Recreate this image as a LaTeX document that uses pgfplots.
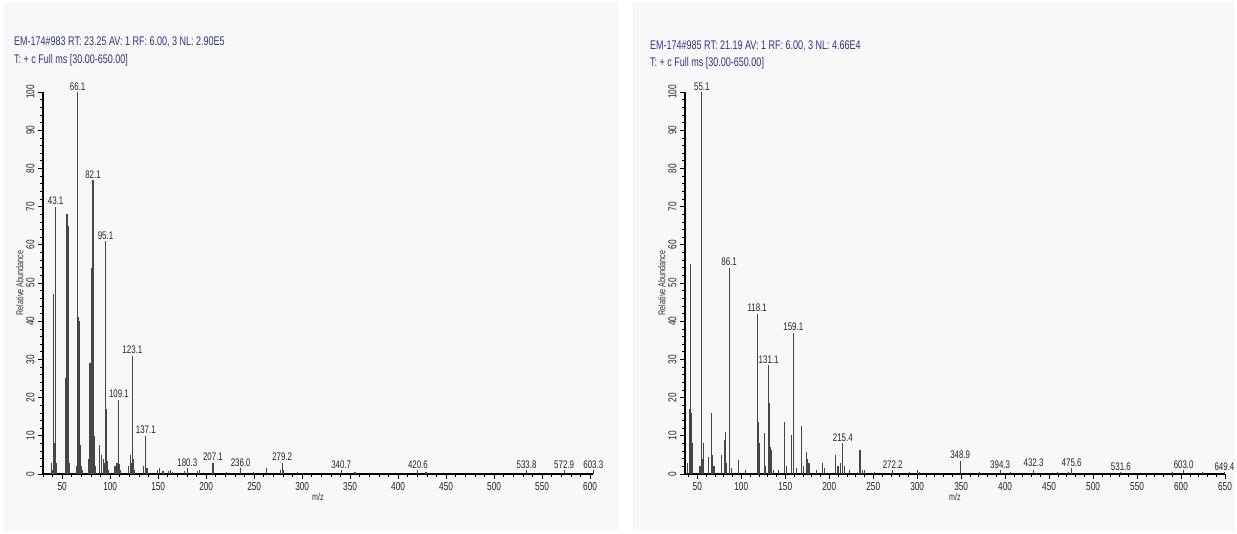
\documentclass[border=0pt]{standalone}
\usepackage{fontspec}
\setmainfont{Liberation Sans}[FakeStretch=0.72]
\usepackage{pgfplots}
\usepackage{pgfplotstable}
\pgfplotsset{compat=1.18}
\definecolor{hdr}{RGB}{50,50,150}
\definecolor{barc}{RGB}{70,70,70}
\definecolor{panel}{RGB}{248,248,248}

\pgfplotstableread{
m v
39 3
40 1
41 47
42 8
43.1 70
44 3
53 19
54 25
55 68
56 7
57 65
58 3
65 2
66.1 100
67 41
68 40
69 7.5
70 2
71 1
77 4
78 2
79 29
80 5
81 54
82.1 77
83 49
84 10
85 2
89 7.5
91 5
93 4
94 3
95.1 61
96 17
97 3.5
98 1
105 2
107 3
108 3
109.1 19.5
110 2.5
111 1
119 2
121 5
122 3
123.1 31
124 4
125 1
135 2
137.1 10
138 1.5
139 1.5
149 1
151 1.5
155 0.8
161 0.8
163 1
165 0.6
177 0.8
180.3 1.5
191 0.8
193 1
207.1 3
221 0.5
236.0 1.5
249 0.5
263 1.5
277 1
279.2 3
281 1
295 0.5
340.7 1
355 0.4
420.6 1
429 0.4
533.8 1
572.9 1
603.3 1
}\leftdata

\pgfplotstableread{
m v
39 3
41 17
42 55
43 16
44 8
45 3
53 2
55.1 100
56 4
57 8
63 4.5
66 16
67 5
69 2
78 5
81 9
82 11
83 3
86.1 54
87 2
89 1.5
97 3.7
105 1
118.1 42
119 13.6
120 8
121 8
126 10.7
128 2
131.1 28.5
132 18.6
133 7
134 6.3
137 1
142 1
149 13.6
151 2
157 10.2
159.1 37
163 1.5
168 12.6
171 2
174 5.8
175 4
177 3
185 1
192 3
195 1.5
207 5
210 2
213 3
215.4 8
217 2
223 1
235 6.3
238 1
240 1
251 0.5
272.2 1
291 0.5
300 1
303 0.6
348.9 3.5
371 0.5
394.3 1
406 0.5
432.3 1
460 0.5
472 0.5
475.6 1.5
531.6 0.5
590 0.5
603.0 1
624 0.5
649.4 0.5
}\rightdata

\tikzset{lbl/.style={above, inner sep=1.5pt, font=\fontsize{11}{12}\selectfont, text=black!85}}
\pgfplotsset{
  msstyle/.style={
    scale only axis,
    height=382pt,
    anchor=south west,
    ymin=0, ymax=100,
    axis x line*=bottom,
    axis y line*=left,
    axis line style={black, line width=1.1pt},
    tick align=outside,
    tick style={black, line width=0.6pt},
    major tick length=5pt,
    minor tick length=3pt,
    xtick distance=50,
    ytick distance=10,
    minor x tick num=4,
    minor y tick num=4,
    /pgf/number format/assume math mode=true,
    ticklabel style={font=\fontsize{11.5}{12}\selectfont, text=black!85},
    yticklabel style={rotate=90, anchor=south, font=\fontsize{11.5}{12}\selectfont},
    ylabel={Relative Abundance},
    ylabel style={font=\fontsize{10}{11}\selectfont, text=black!80, yshift=-4pt},
    xlabel={m/z},
    xlabel style={font=\fontsize{10}{11}\selectfont, text=black!80, yshift=4pt},
    clip=false,
  },
}

\begin{document}
\begin{tikzpicture}[x=1pt,y=1pt]
\fill[white] (0,0) rectangle (1237,533);
\fill[panel] (4,2) rectangle (618,531);
\fill[panel] (633,2) rectangle (1235,531);

\node[anchor=west, text=hdr, font=\fontsize{12.5}{13}\selectfont, inner sep=0pt] at (14,491) {EM-174\#983 RT: 23.25 AV: 1 RF: 6.00, 3 NL: 2.90E5};
\node[anchor=west, text=hdr, font=\fontsize{12.5}{13}\selectfont, inner sep=0pt] at (14,473) {T: + c Full ms [30.00-650.00]};
\node[anchor=west, text=hdr, font=\fontsize{12.5}{13}\selectfont, inner sep=0pt] at (650,487) {EM-174\#985 RT: 21.19 AV: 1 RF: 6.00, 3 NL: 4.66E4};
\node[anchor=west, text=hdr, font=\fontsize{12.5}{13}\selectfont, inner sep=0pt] at (650,470) {T: + c Full ms [30.00-650.00]};

\begin{axis}[msstyle, at={(43pt,59pt)}, width=550pt, xmin=30, xmax=603]
\addplot[ycomb, barc, line width=1.1pt, mark=none] table[x=m, y=v] {\leftdata};
\node[lbl] at (axis cs:66.1,100) {66.1};
\node[lbl] at (axis cs:43.1,70) {43.1};
\node[lbl] at (axis cs:82.1,77) {82.1};
\node[lbl] at (axis cs:95.1,61) {95.1};
\node[lbl] at (axis cs:109.1,19.5) {109.1};
\node[lbl] at (axis cs:123.1,31) {123.1};
\node[lbl] at (axis cs:137.1,10) {137.1};
\node[lbl] at (axis cs:180.3,1.5) {180.3};
\node[lbl] at (axis cs:207.1,3) {207.1};
\node[lbl] at (axis cs:236.0,1.5) {236.0};
\node[lbl] at (axis cs:279.2,3) {279.2};
\node[lbl] at (axis cs:340.7,1) {340.7};
\node[lbl] at (axis cs:420.6,1) {420.6};
\node[lbl] at (axis cs:533.8,1) {533.8};
\node[lbl] at (axis cs:572.9,1) {572.9};
\node[lbl] at (axis cs:603.3,1) {603.3};
\end{axis}

\begin{axis}[msstyle, at={(685pt,59pt)}, width=540pt, xmin=36, xmax=650]
\addplot[ycomb, barc, line width=1.1pt, mark=none] table[x=m, y=v] {\rightdata};
\node[lbl] at (axis cs:55.1,100) {55.1};
\node[lbl] at (axis cs:86.1,54) {86.1};
\node[lbl] at (axis cs:118.1,42) {118.1};
\node[lbl] at (axis cs:131.1,28.5) {131.1};
\node[lbl] at (axis cs:159.1,37) {159.1};
\node[lbl] at (axis cs:215.4,8) {215.4};
\node[lbl] at (axis cs:272.2,1) {272.2};
\node[lbl] at (axis cs:348.9,3.5) {348.9};
\node[lbl] at (axis cs:394.3,1) {394.3};
\node[lbl] at (axis cs:432.3,1.5) {432.3};
\node[lbl] at (axis cs:475.6,1.5) {475.6};
\node[lbl] at (axis cs:531.6,0.5) {531.6};
\node[lbl] at (axis cs:603.0,1) {603.0};
\node[lbl] at (axis cs:649.4,0.5) {649.4};
\end{axis}
\end{tikzpicture}
\end{document}
